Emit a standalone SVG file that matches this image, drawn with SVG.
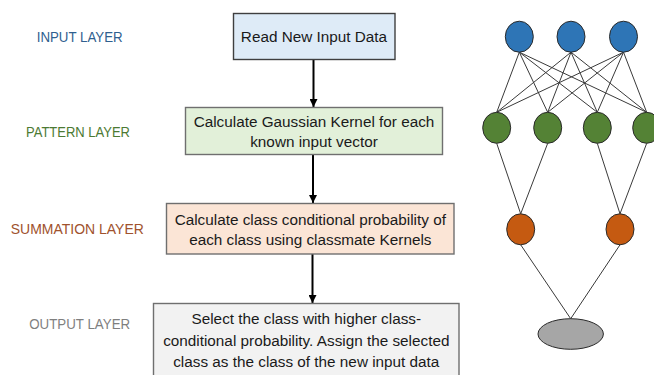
<svg xmlns="http://www.w3.org/2000/svg" width="654" height="375" viewBox="0 0 654 375">
  <style>
    .box { stroke-width: 1.4; }
    .boxtext { font-family: "Liberation Sans", Arial, sans-serif; font-size: 15.3px; fill: #1a1a1a; text-anchor: middle; }
    .layer { font-family: "Liberation Sans", Arial, sans-serif; font-size: 15.5px; text-anchor: middle; }
    .flow { stroke: #000; stroke-width: 2; fill: none; marker-end: url(#arrow); }
    .edge { stroke: #3a3a3a; stroke-width: 1; fill: none; }
    .neuron { stroke: #2a2a2a; stroke-width: 1; }
  </style>
  <defs>
    <marker id="arrow" viewBox="0 0 10 10" refX="10" refY="5" markerWidth="4" markerHeight="4" orient="auto" markerUnits="strokeWidth">
      <path d="M0,0 L10,5 L0,10 Z" fill="#000"/>
    </marker>
  </defs>
  <rect width="654" height="375" fill="#fff"/>

  <!-- layer labels -->
  <g id="labels">
    <text class="layer" x="79.7" y="42" fill="#2F5F8F" textLength="86" lengthAdjust="spacingAndGlyphs">INPUT LAYER</text>
    <text class="layer" x="78" y="137" fill="#4C7A33" textLength="104" lengthAdjust="spacingAndGlyphs">PATTERN LAYER</text>
    <text class="layer" x="77.3" y="234" fill="#A0522D" textLength="133" lengthAdjust="spacingAndGlyphs">SUMMATION LAYER</text>
    <text class="layer" x="79.7" y="329" fill="#7F7F7F" textLength="101" lengthAdjust="spacingAndGlyphs">OUTPUT LAYER</text>
  </g>

  <!-- flow connectors -->
  <g id="flow-connectors">
    <line class="flow" x1="313.5" y1="59.5" x2="313.5" y2="107"/>
    <line class="flow" x1="313" y1="154.5" x2="313" y2="203"/>
    <line class="flow" x1="312.5" y1="254" x2="312.5" y2="303"/>
  </g>

  <g id="step-read">
    <rect class="box" x="233.5" y="13.5" width="161.5" height="46" fill="#DEEBF7" stroke="#3f3f3f"/>
    <text class="boxtext" x="314" y="42">Read New Input Data</text>
  </g>

  <g id="step-kernel">
    <rect class="box" x="185.5" y="107.5" width="257" height="47" fill="#E2F0D9" stroke="#6f6f6f"/>
    <text class="boxtext" x="314" y="126.5">Calculate Gaussian Kernel for each</text>
    <text class="boxtext" x="314" y="146.5">known input vector</text>
  </g>

  <g id="step-sum">
    <rect class="box" x="166.5" y="203.5" width="287.5" height="50.5" fill="#FBE5D6" stroke="#6f6f6f"/>
    <text class="boxtext" x="310.3" y="224.5">Calculate class conditional probability of</text>
    <text class="boxtext" x="310.3" y="245">each class using classmate Kernels</text>
  </g>

  <g id="step-output">
    <rect class="box" x="153.5" y="303.5" width="305.5" height="80" fill="#F2F2F2" stroke="#6f6f6f"/>
    <text class="boxtext" x="306.3" y="324">Select the class with higher class-</text>
    <text class="boxtext" x="306.3" y="345.5">conditional probability. Assign the selected</text>
    <text class="boxtext" x="306.3" y="366.5">class as the class of the new input data</text>
  </g>

  <!-- network edges -->
  <g id="net-edges">
    <!-- input to pattern -->
    <line class="edge" x1="519.3" y1="52.2" x2="496.7" y2="112.3"/>
    <line class="edge" x1="519.3" y1="52.2" x2="547.7" y2="112.3"/>
    <line class="edge" x1="519.3" y1="52.2" x2="597.3" y2="112.3"/>
    <line class="edge" x1="519.3" y1="52.2" x2="646.7" y2="112.3"/>
    <line class="edge" x1="571" y1="52.2" x2="496.7" y2="112.3"/>
    <line class="edge" x1="571" y1="52.2" x2="547.7" y2="112.3"/>
    <line class="edge" x1="571" y1="52.2" x2="597.3" y2="112.3"/>
    <line class="edge" x1="571" y1="52.2" x2="646.7" y2="112.3"/>
    <line class="edge" x1="623.5" y1="52.2" x2="496.7" y2="112.3"/>
    <line class="edge" x1="623.5" y1="52.2" x2="547.7" y2="112.3"/>
    <line class="edge" x1="623.5" y1="52.2" x2="597.3" y2="112.3"/>
    <line class="edge" x1="623.5" y1="52.2" x2="646.7" y2="112.3"/>
    <!-- pattern to summation -->
    <line class="edge" x1="496.7" y1="143.3" x2="520.7" y2="213.8"/>
    <line class="edge" x1="547.7" y1="143.3" x2="520.7" y2="213.8"/>
    <line class="edge" x1="597.3" y1="143.3" x2="620" y2="213.8"/>
    <line class="edge" x1="646.7" y1="143.3" x2="620" y2="213.8"/>
    <!-- summation to output -->
    <line class="edge" x1="520.7" y1="244.8" x2="570.7" y2="318.7"/>
    <line class="edge" x1="620" y1="244.8" x2="570.7" y2="318.7"/>
  </g>

  <g id="input-neurons">
    <ellipse class="neuron" cx="519.3" cy="36.7" rx="14" ry="15.5" fill="#2E75B6"/>
    <ellipse class="neuron" cx="571" cy="36.7" rx="14" ry="15.5" fill="#2E75B6"/>
    <ellipse class="neuron" cx="623.5" cy="36.7" rx="14" ry="15.5" fill="#2E75B6"/>
  </g>

  <g id="pattern-neurons">
    <ellipse class="neuron" cx="496.7" cy="127.8" rx="14" ry="15.5" fill="#548235"/>
    <ellipse class="neuron" cx="547.7" cy="127.8" rx="14" ry="15.5" fill="#548235"/>
    <ellipse class="neuron" cx="597.3" cy="127.8" rx="14" ry="15.5" fill="#548235"/>
    <ellipse class="neuron" cx="646.7" cy="127.8" rx="14" ry="15.5" fill="#548235"/>
  </g>

  <g id="summation-neurons">
    <ellipse class="neuron" cx="520.7" cy="229.3" rx="14" ry="15.5" fill="#C55A11"/>
    <ellipse class="neuron" cx="620" cy="229.3" rx="14" ry="15.5" fill="#C55A11"/>
  </g>

  <g id="output-neuron">
    <ellipse class="neuron" cx="570.7" cy="334" rx="32.7" ry="15.3" fill="#A6A6A6" stroke="#404040"/>
  </g>
</svg>
